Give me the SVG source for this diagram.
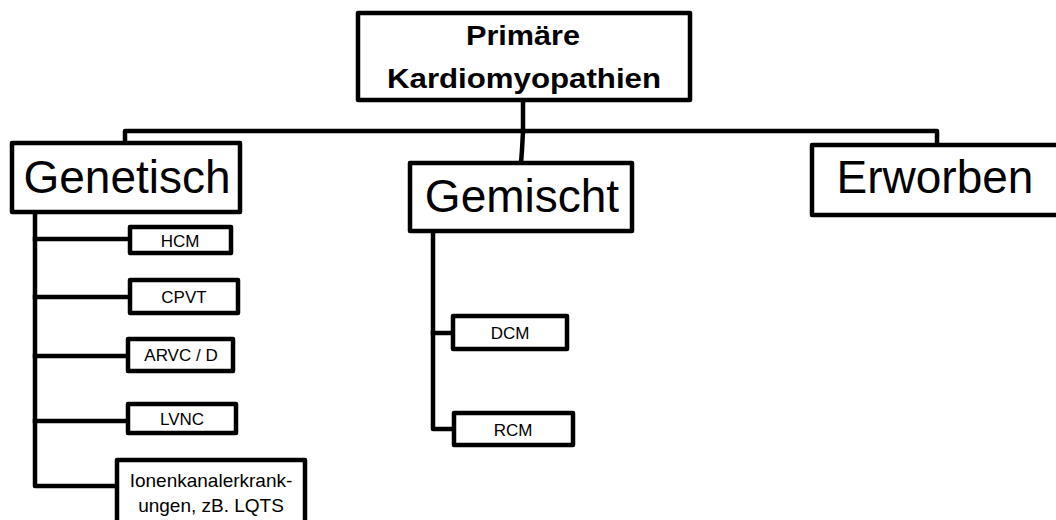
<svg xmlns="http://www.w3.org/2000/svg" width="1056" height="520" viewBox="0 0 1056 520">
<style>
.box{fill:#fff;stroke:#000;stroke-width:4.5;stroke-linejoin:round}
.ln{fill:none;stroke:#000;stroke-width:4.5;stroke-linejoin:round;stroke-linecap:square}
text{font-family:"Liberation Sans",Arial,sans-serif;fill:#000;text-anchor:middle}
.b{font-weight:bold;font-size:27px}
.big{font-size:46px}
.sm{font-size:17px}
.io{font-size:19px}
</style>
<rect width="1056" height="520" fill="#fff"/>
<g id="connectors">
<path class="ln" d="M523,100 V131"/>
<path class="ln" d="M125,143 V131 H937 V145"/>
<path class="ln" d="M523,131 L522,150 L521,163"/>
<path class="ln" d="M35,212 V486 H117"/>
<path class="ln" d="M35,239 H130"/>
<path class="ln" d="M35,297 H130"/>
<path class="ln" d="M35,356 H128"/>
<path class="ln" d="M35,421 H128"/>
<path class="ln" d="M433,231 V429 H454"/>
<path class="ln" d="M433,333 H453"/>
</g>
<g id="primaere">
<rect class="box" x="358" y="13" width="332" height="87"/>
<text class="b" x="523" y="45" textLength="114" lengthAdjust="spacingAndGlyphs">Primäre</text>
<text class="b" x="524" y="88" textLength="274" lengthAdjust="spacingAndGlyphs">Kardiomyopathien</text>
</g>
<g id="genetisch">
<rect class="box" x="12" y="143" width="228" height="69"/>
<text class="big" x="127" y="193">Genetisch</text>
</g>
<g id="gemischt">
<rect class="box" x="410" y="163" width="222" height="68"/>
<text class="big" x="522" y="212">Gemischt</text>
</g>
<g id="erworben">
<rect class="box" x="812" y="145" width="250" height="70"/>
<text class="big" x="935" y="193">Erworben</text>
</g>
<g id="hcm">
<rect class="box" x="130" y="227" width="101" height="26"/>
<text class="sm" x="180" y="247">HCM</text>
</g>
<g id="cpvt">
<rect class="box" x="130" y="280" width="108" height="33"/>
<text class="sm" x="184" y="303">CPVT</text>
</g>
<g id="arvc">
<rect class="box" x="128" y="339" width="105" height="32"/>
<text class="sm" x="181" y="361">ARVC / D</text>
</g>
<g id="lvnc">
<rect class="box" x="128" y="404" width="108" height="29"/>
<text class="sm" x="182" y="425">LVNC</text>
</g>
<g id="ionen">
<rect class="box" x="117" y="460" width="188" height="70"/>
<text class="io" x="211" y="487">Ionenkanalerkrank-</text>
<text class="io" x="211" y="512">ungen, zB. LQTS</text>
</g>
<g id="dcm">
<rect class="box" x="453" y="316" width="114" height="33"/>
<text class="sm" x="510" y="339">DCM</text>
</g>
<g id="rcm">
<rect class="box" x="454" y="413" width="119" height="32"/>
<text class="sm" x="513" y="436">RCM</text>
</g>
</svg>
